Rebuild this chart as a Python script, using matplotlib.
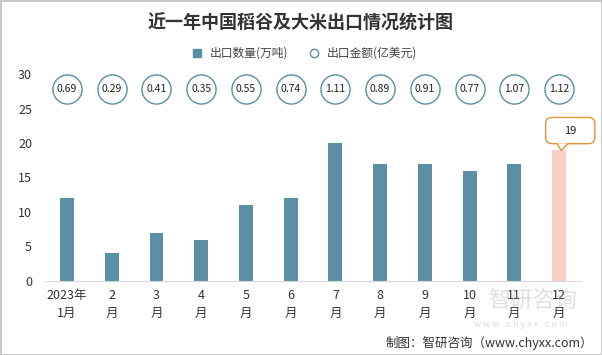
import matplotlib.pyplot as plt
import matplotlib as mpl
from matplotlib.patches import FancyBboxPatch, Polygon
from matplotlib.lines import Line2D

plt.rcParams['font.family'] = ['Noto Sans CJK SC', 'DejaVu Sans']

months = ['2023年\n1月', '2\n月', '3\n月', '4\n月', '5\n月', '6\n月',
          '7\n月', '8\n月', '9\n月', '10\n月', '11\n月', '12\n月']
qty = [12, 4, 7, 6, 11, 12, 20, 17, 17, 16, 17, 19]     # 万吨
amount = [0.69, 0.29, 0.41, 0.35, 0.55, 0.74, 1.11, 0.89, 0.91, 0.77, 1.07, 1.12]  # 亿美元

blue = '#5b8fa6'
pink = '#f8d0c8'
orange = '#e8913a'

fig = plt.figure(figsize=(6.02, 3.55), dpi=100)
fig.patch.set_edgecolor('#c8c8c8')
fig.patch.set_linewidth(1)
ax = fig.add_axes([0.0741, 0.2085, 0.8917, 0.583])

x = list(range(len(months)))
colors = [blue] * (len(qty) - 1) + [pink]
ax.bar(x, qty, width=0.31, color=colors, zorder=2)

# amount circles along the top
ax.scatter(x, [27.8] * len(x), s=440, facecolor='white', edgecolor=blue,
           linewidth=1, zorder=3, clip_on=False)
for xi, a in zip(x, amount):
    ax.text(xi, 27.8, '%.2f' % a, ha='center', va='center', fontsize=7.5,
            color='#222222', zorder=4)

# callout for the last month
lx, ly = x[-1], qty[-1]
box = FancyBboxPatch((lx - 0.3, ly + 0.9), 1.1, 3.8,
                     boxstyle='round,pad=0,rounding_size=0.15',
                     facecolor='white', edgecolor=orange, linewidth=1,
                     zorder=5, clip_on=False, mutation_aspect=6)
ax.add_patch(box)
ax.add_patch(Polygon([[lx - 0.05, ly + 0.95], [lx + 0.05, ly - 0.1], [lx + 0.2, ly + 0.95]],
                     closed=False, facecolor='white', edgecolor=orange,
                     linewidth=1, zorder=6, clip_on=False))
ax.text(lx + 0.25, ly + 2.8, str(ly), ha='center', va='center', fontsize=8,
        color='#222222', zorder=7)

ax.set_xlim(-0.5, len(x) - 0.5)
ax.set_ylim(0, 30)
ax.set_yticks(range(0, 31, 5))
ax.set_xticks(x)
ax.set_xticklabels(months, fontsize=9, linespacing=1.5)
ax.tick_params(axis='both', length=0, labelsize=9, colors='#333333')
ax.tick_params(axis='y', pad=9)
ax.tick_params(axis='x', pad=6)
for s in ['top', 'right', 'left']:
    ax.spines[s].set_visible(False)
ax.spines['bottom'].set_color('#d9d9d9')

fig.text(0.5, 0.935, '近一年中国稻谷及大米出口情况统计图', ha='center', va='center',
         fontsize=13, fontweight='bold', color='#333333')

handles = [Line2D([], [], marker='s', linestyle='none', color=blue, markersize=6),
           Line2D([], [], marker='o', linestyle='none', markerfacecolor='white',
                  markeredgecolor=blue, markersize=6)]
fig.legend(handles, ['出口数量(万吨)', '出口金额(亿美元)'], loc='center',
           bbox_to_anchor=(0.5, 0.85), ncol=2, frameon=False, fontsize=8.5,
           handletextpad=0.1, columnspacing=1.2, labelcolor='#444444')

# watermark
fig.text(0.885, 0.15, '智研咨询', ha='center', va='center', fontsize=16,
         color='#999999', alpha=0.3, zorder=0)
fig.text(0.865, 0.085, 'w w w . c h y x x . c o m', ha='center', va='center',
         fontsize=6.5, color='#999999', alpha=0.35, zorder=0)

fig.text(0.985, 0.033, '制图：智研咨询（www.chyxx.com）', ha='right', va='center',
         fontsize=9, color='#333333')

fig.savefig('out.png', dpi=100, edgecolor=fig.get_edgecolor())
